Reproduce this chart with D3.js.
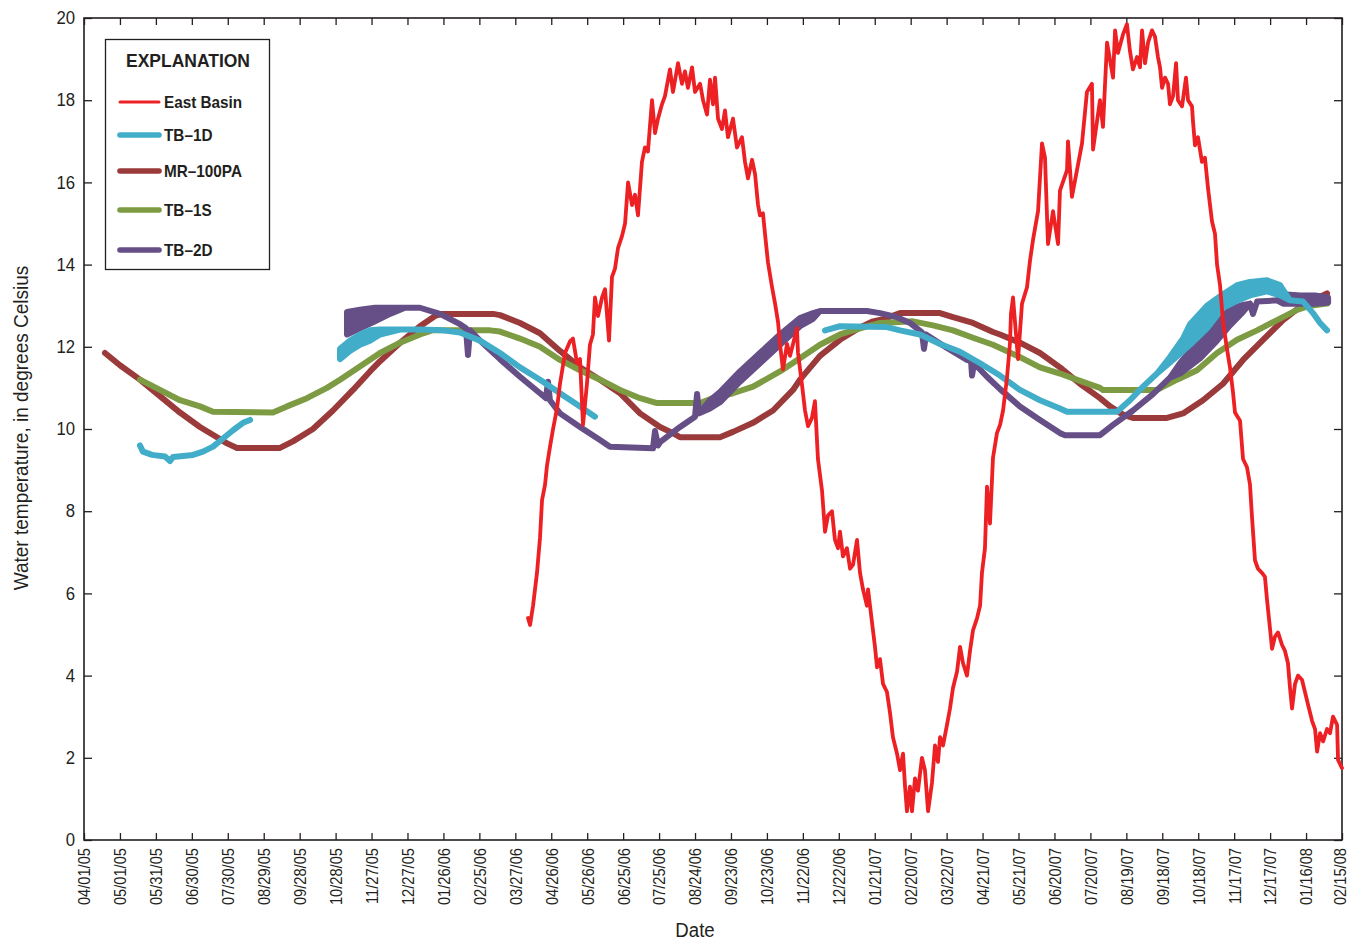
<!DOCTYPE html>
<html>
<head>
<meta charset="utf-8">
<script src="https://cdn.jsdelivr.net/npm/d3@7"></script>
<style>
  html, body { margin: 0; padding: 0; background: #fff; }
  svg { display: block; }
  text { font-family: "Liberation Sans", Arial, sans-serif; fill: #231f20; }
</style>
</head>
<body>
<svg id="chart" width="1348" height="940"></svg>
<script>
// Days are counted from 04/01/05 (day 0); values are water temperature in degrees Celsius.

const xTickLabels = ["04/01/05","05/01/05","05/31/05","06/30/05","07/30/05","08/29/05","09/28/05","10/28/05",
  "11/27/05","12/27/05","01/26/06","02/25/06","03/27/06","04/26/06","05/26/06","06/25/06","07/25/06",
  "08/24/06","09/23/06","10/23/06","11/22/06","12/22/06","01/21/07","02/20/07","03/22/07","04/21/07",
  "05/21/07","06/20/07","07/20/07","08/19/07","09/18/07","10/18/07","11/17/07","12/17/07","01/16/08","02/15/08"];
const yTickValues = [0, 2, 4, 6, 8, 10, 12, 14, 16, 18, 20];

// East Basin surface water
const eastBasin = [
[370.6,5.4],[372.3,5.23],[374.8,5.7],[378.1,6.5],[380.6,7.35],[382.3,8.27],[384.8,8.64],[386.4,9.1],[388.9,9.56],[391.5,10.0],
[394.8,10.5],[397.3,11.1],[401.5,11.85],[405.6,12.13],[408.1,12.2],[411.5,11.6],[414.0,11.7],[416.5,10.1],[419.8,11.1],[422.3,12.05],
[424.8,12.3],[426.5,13.2],[429.0,12.75],[432.4,13.2],[434.9,13.4],[438.2,12.15],[440.7,13.7],[443.2,13.9],[445.7,14.4],[449.1,14.7],
[451.6,15.0],[454.1,16.0],[457.4,15.45],[459.9,15.7],[462.4,15.2],[465.7,16.5],[468.2,16.85],[470.7,16.75],[474.1,18.0],[476.6,17.2],
[479.1,17.55],[482.4,17.9],[484.9,18.1],[489.1,18.75],[491.6,18.2],[495.8,18.9],[499.1,18.4],[501.6,18.7],[504.1,18.3],[507.5,18.8],
[510.0,18.2],[514.2,18.4],[516.7,18.0],[520.0,17.65],[522.5,18.5],[525.0,17.9],[526.7,18.55],[529.2,17.55],[532.5,17.3],[535.0,17.75],
[537.5,17.1],[541.7,17.55],[545.0,16.85],[549.2,17.1],[551.7,16.5],[554.2,16.1],[557.6,16.55],[560.1,16.2],[562.6,15.45],[564.2,15.2],
[566.7,15.25],[568.4,14.75],[570.9,14.05],[574.3,13.45],[576.8,13.05],[579.3,12.6],[580.9,12.07],[583.4,11.45],[586.8,12.07],[589.3,11.78],
[591.8,12.07],[595.1,12.45],[595.9,11.87],[599.3,11.07],[601.8,10.45],[604.3,10.07],[607.6,10.27],[610.1,10.68],[612.6,9.27],[616.0,8.5],
[618.5,7.5],[621.0,7.9],[624.3,8.0],[626.8,7.3],[629.3,7.1],[631.0,7.5],[633.5,6.9],[636.8,7.1],[639.4,6.6],[641.9,6.7],
[645.2,7.3],[647.7,6.5],[650.2,6.1],[653.5,5.7],[654.4,6.1],[657.7,5.3],[660.2,4.7],[661.9,4.2],[664.4,4.4],[666.9,3.8],
[670.2,3.6],[672.7,3.1],[675.2,2.5],[678.6,2.1],[681.1,1.7],[683.6,2.1],[685.3,1.3],[686.9,0.7],[689.4,1.3],[691.1,0.7],
[693.6,1.5],[696.1,1.2],[699.4,2.0],[701.9,1.7],[704.5,0.7],[707.8,1.4],[710.3,2.3],[712.8,1.9],[714.5,2.5],[717.0,2.3],
[720.3,2.8],[722.8,3.2],[725.3,3.7],[728.7,4.1],[731.2,4.7],[733.7,4.3],[737.0,4.0],[739.5,4.6],[742.0,5.1],[745.4,5.4],
[747.9,5.7],[749.5,6.5],[752.0,7.1],[753.7,8.6],[756.2,7.7],[758.7,9.3],[762.0,9.9],[764.6,10.1],[767.1,10.45],[770.4,11.25],
[772.9,12.1],[773.7,12.8],[775.4,13.2],[779.6,11.7],[782.9,13.05],[787.1,13.45],[789.6,14.1],[792.1,14.6],[796.3,15.3],[799.6,16.95],
[802.1,16.6],[804.6,14.5],[808.8,15.3],[813.0,14.5],[814.6,15.8],[820.5,16.3],[821.3,17.0],[824.6,15.65],[828.8,16.3],[833.0,16.95],
[837.1,18.2],[841.3,18.4],[842.2,16.8],[848.0,18.0],[850.5,17.35],[853.9,19.4],[858.9,18.55],[860.6,19.7],[863.0,19.15],[867.2,19.6],
[870.5,19.85],[873.0,19.2],[875.5,18.75],[878.9,19.05],[881.4,18.8],[883.1,19.7],[885.6,18.9],[888.1,19.4],[891.4,19.7],[893.9,19.55],
[896.4,19.05],[898.1,18.8],[899.8,18.3],[902.3,18.55],[904.8,18.4],[906.4,17.9],[909.0,18.1],[911.5,18.9],[913.1,18.0],[916.5,17.85],
[919.8,18.55],[921.5,18.0],[924.8,17.85],[925.6,17.5],[927.3,16.9],[929.8,17.1],[933.1,16.5],[935.6,16.6],[938.2,15.85],[941.5,15.05],
[944.0,14.75],[945.7,14.0],[948.2,13.5],[950.7,12.6],[954.0,11.95],[956.5,11.5],[959.0,10.9],[960.7,10.4],[964.9,10.2],[967.4,9.27],
[970.7,9.07],[973.2,8.65],[974.9,7.85],[977.4,6.8],[979.9,6.6],[983.2,6.5],[985.7,6.4],[987.4,5.85],[989.9,5.15],[991.6,4.65],
[994.1,4.95],[996.6,5.05],[999.9,4.75],[1002.4,4.6],[1004.9,4.3],[1006.6,3.7],[1008.3,3.2],[1010.8,3.8],[1013.3,4.0],[1016.6,3.9],
[1019.1,3.6],[1021.6,3.3],[1025.0,2.9],[1027.5,2.7],[1029.2,2.15],[1031.7,2.6],[1034.2,2.4],[1037.5,2.7],[1040.0,2.6],[1042.5,3.0],
[1045.9,2.8],[1046.7,1.95],[1050.0,1.75]
];

// Wells: [day, value] or [day, daily low, daily high]
const tb1dSeg1 = [
[46.7,9.6],[49.2,9.45],[56.8,9.37],[67.6,9.33],[71.8,9.22],[74.3,9.32],[91.0,9.37],[99.3,9.45],[107.7,9.57],[116.0,9.77],
[124.4,9.97],[132.7,10.15],[138.6,10.22]
];
const tb1dSeg2 = [
[213.7,11.7,11.95],[222.0,11.9,12.15],[230.4,12.05,12.3],[238.7,12.15,12.4],[247.1,12.3,12.42],[263.8,12.42],[280.4,12.42],[299.6,12.4],
[313.8,12.35],[330.5,12.15],[347.2,11.85],[363.9,11.5],[380.6,11.2],[397.3,10.87],[414.0,10.55],[426.5,10.3]
];
const tb1dSeg3 = [
[618.5,12.4],[631.0,12.5],[670.2,12.48],[681.1,12.4],[697.8,12.3],[714.5,12.07],[731.2,11.88],[747.9,11.6],[764.6,11.3],[781.2,10.95],
[797.9,10.7],[814.6,10.5],[820.5,10.42],[862.2,10.42],[873.0,10.7],[883.9,11.03],[895.6,11.35],[906.4,11.62,11.75],[917.3,11.9,12.2],
[923.1,12.05,12.55],[937.3,12.45,13.0],[950.7,12.95,13.28],[962.4,13.12,13.5],[973.2,13.25,13.58],[987.4,13.35,13.62],[998.3,13.25,13.5],
[1006.6,13.13],[1017.5,13.1],[1025.8,12.82],[1031.7,12.58],[1037.5,12.4]
];
const mr100pa = [
[17.5,11.85],[30.0,11.55],[46.7,11.2],[63.4,10.8],[80.1,10.4],[96.8,10.05],[111.0,9.8],[119.4,9.65],[127.7,9.54],[163.6,9.54],
[174.4,9.7],[191.1,10.0],[207.8,10.45],[224.5,10.95],[238.7,11.4],[247.1,11.65],[263.8,12.1],[280.4,12.5],[293.0,12.75],[298.8,12.8],
[341.4,12.8],[347.2,12.77],[363.9,12.58],[380.6,12.33],[397.3,11.9],[414.0,11.5],[430.7,11.2],[447.4,10.87],[464.1,10.38],[480.8,10.05],
[491.6,9.9],[497.5,9.8],[530.8,9.8],[541.7,9.93],[558.4,10.15],[575.1,10.45],[591.8,10.95],[597.6,11.2],[614.3,11.78],[631.0,12.17],
[647.7,12.47],[658.6,12.62],[666.9,12.67],[681.1,12.82],[714.5,12.82],[725.3,12.72],[742.0,12.58],[758.7,12.36],[764.6,12.3],[781.2,12.1],
[797.9,11.85],[814.6,11.5],[831.3,11.1],[848.0,10.75],[856.4,10.55],[867.2,10.35],[875.5,10.27],[903.9,10.27],[917.3,10.38],[934.0,10.7],
[950.7,11.1],[967.4,11.68],[984.1,12.17],[1000.8,12.65],[1015.0,12.97],[1029.2,13.18],[1037.5,13.3]
];
const tb1s = [
[46.7,11.2],[63.4,10.95],[80.1,10.7],[96.8,10.55],[107.7,10.42],[157.7,10.4],[169.4,10.55],[186.1,10.75],[202.8,11.0],[213.7,11.2],
[247.1,11.85],[263.8,12.1],[280.4,12.3],[290.5,12.4],[338.9,12.4],[347.2,12.37],[363.9,12.2],[380.6,12.0],[397.3,11.68],[414.0,11.43],
[430.7,11.2],[447.4,10.95],[464.1,10.75],[478.3,10.63],[514.2,10.63],[525.0,10.75],[541.7,10.87],[558.4,11.03],[580.9,11.4],[597.6,11.72],
[614.3,12.05],[631.0,12.3],[647.7,12.45],[664.4,12.58],[691.9,12.62],[708.6,12.52],[725.3,12.4],[742.0,12.22],[758.7,12.05],[781.2,11.75],
[797.9,11.5],[814.6,11.35],[831.3,11.17],[848.0,11.0],[850.5,10.95],[895.6,10.95],[912.3,11.2],[929.0,11.43],[945.7,11.85],[962.4,12.17],
[979.1,12.4],[995.8,12.65],[1012.5,12.9],[1023.3,13.0],[1037.5,13.05]
];
const tb2d = [
[219.5,12.3,12.85],[230.4,12.45,12.9],[242.9,12.62,12.95],[255.4,12.8,12.95],[267.9,12.95],[280.4,12.95],[297.1,12.8],[313.8,12.55],
[318.8,12.45],[320.5,11.8],[322.2,12.4],[330.5,12.15],[347.2,11.7],[363.9,11.27],[380.6,10.87],[385.6,10.75],[387.3,11.15],[388.9,10.7],
[397.3,10.38],[414.0,10.05],[430.7,9.73],[439.0,9.57],[474.9,9.53],[476.6,9.95],[479.1,9.6],[480.8,9.68],[497.5,10.05],[510.0,10.3],
[511.7,10.85],[513.4,10.38],[522.5,10.5,10.7],[530.8,10.65,10.9],[547.5,11.15,11.4],[564.2,11.6,11.85],[580.9,12.05,12.3],[597.6,12.5,12.7],
[608.5,12.68,12.82],[614.3,12.87],[653.5,12.87],[664.4,12.82],[678.6,12.72],[689.4,12.58],[699.4,12.35],[701.1,11.95],[702.8,12.3],
[720.3,11.97],[737.0,11.68],[740.4,11.65],[741.2,11.3],[742.9,11.6],[753.7,11.27],[764.6,10.97],[781.2,10.55],[797.9,10.22],[814.6,9.9],
[818.8,9.85],[848.0,9.85],[858.9,10.1],[875.5,10.45],[892.2,10.85],[906.4,11.25],[914.8,11.35,11.6],[931.5,11.72,12.2],[945.7,12.15,12.6],
[956.5,12.52,12.92],[967.4,12.85,13.02],[973.2,13.05],[975.7,12.8],[979.1,13.1],[995.8,13.13],[1000.8,13.05,13.28],[1015.0,13.05,13.25],
[1027.5,13.05,13.25],[1038.4,13.08,13.2]
];

const seriesInfo = [
  { name: "East Basin", color: "#ed2024" },
  { name: "TB\u20131D",     color: "#42adc9" },
  { name: "MR\u2013100PA",  color: "#9b3a3a" },
  { name: "TB\u20131S",     color: "#7d9b42" },
  { name: "TB\u20132D",     color: "#654f86" }
];

const plot = { left: 84, right: 1342, top: 18, bottom: 840 };
const DAY0 = Date.UTC(2005, 3, 1);
const toDate = d => new Date(DAY0 + d * 864e5);
const parseTick = d3.utcParse("%m/%d/%y");
const tickDates = xTickLabels.map(parseTick);

const x = d3.scaleUtc().domain([tickDates[0], tickDates[tickDates.length - 1]]).range([plot.left, plot.right]);
const y = d3.scaleLinear().domain([0, 20]).range([plot.bottom, plot.top]);

const svg = d3.select("#chart");
const ink = "#231f20";

// narrow the type horizontally so it reads as a condensed face
function condense(sel, f) {
  sel.each(function () {
    const L = this.getComputedTextLength();
    d3.select(this).attr("textLength", (L * f).toFixed(1)).attr("lengthAdjust", "spacingAndGlyphs");
  });
}

// axes with inward ticks on all four sides
const gBottom = svg.append("g").attr("transform", `translate(0,${plot.bottom})`)
  .call(d3.axisBottom(x).tickValues(tickDates).tickSizeInner(-7).tickSizeOuter(0)
    .tickFormat((d, i) => xTickLabels[i]));
gBottom.selectAll("text")
  .attr("transform", "rotate(-90)")
  .attr("x", -8).attr("y", 0)
  .attr("dy", (d, i) => i === xTickLabels.length - 1 ? "0.22em" : "0.36em")
  .style("text-anchor", "end");

svg.append("g").attr("transform", `translate(0,${plot.top})`)
  .call(d3.axisTop(x).tickValues(tickDates).tickSizeInner(-7).tickSizeOuter(0).tickFormat(""));

const gLeft = svg.append("g").attr("transform", `translate(${plot.left},0)`)
  .call(d3.axisLeft(y).tickValues(yTickValues).tickSizeInner(-8).tickSizeOuter(0).tickPadding(9));

svg.append("g").attr("transform", `translate(${plot.right},0)`)
  .call(d3.axisRight(y).tickValues(yTickValues).tickSizeInner(-8).tickSizeOuter(0).tickFormat(""));

svg.selectAll(".domain").remove();
svg.selectAll(".tick line").attr("stroke", ink).attr("stroke-width", 1.3);
svg.selectAll(".tick text").attr("fill", ink).attr("font-family", null).attr("font-size", null);
gBottom.selectAll("text").style("font-size", "16.3px");
gLeft.selectAll("text").style("font-size", "18px");
condense(gBottom.selectAll("text"), 0.9);
condense(gLeft.selectAll("text"), 0.93);

svg.append("rect")
  .attr("x", plot.left).attr("y", plot.top)
  .attr("width", plot.right - plot.left).attr("height", plot.bottom - plot.top)
  .attr("fill", "none").attr("stroke", ink).attr("stroke-width", 1.6);

// axis titles
const xTitle = svg.append("text").attr("x", 695).attr("y", 937).attr("text-anchor", "middle")
  .style("font-size", "20px").text("Date");
const yTitle = svg.append("text").attr("transform", "translate(28,428) rotate(-90)").attr("text-anchor", "middle")
  .style("font-size", "20px").text("Water temperature, in degrees Celsius");
condense(xTitle, 0.93);
condense(yTitle, 0.95);

// well records drawn as a band between daily low and high (a single value collapses the band to a line)
const band = d3.area()
  .x(d => x(toDate(d[0])))
  .y0(d => y(d[1]))
  .y1(d => y(d.length > 2 ? d[2] : d[1]));

const plotG = svg.append("g");
function drawWell(data, color) {
  plotG.append("path").datum(data).attr("d", band)
    .attr("fill", color).attr("stroke", color)
    .attr("stroke-width", 6).attr("stroke-linejoin", "round").attr("stroke-linecap", "round");
}
drawWell(mr100pa, seriesInfo[2].color);
drawWell(tb1s, seriesInfo[3].color);
drawWell(tb2d, seriesInfo[4].color);
drawWell(tb1dSeg1, seriesInfo[1].color);
drawWell(tb1dSeg2, seriesInfo[1].color);
drawWell(tb1dSeg3, seriesInfo[1].color);

const line = d3.line().x(d => x(toDate(d[0]))).y(d => y(d[1]));
plotG.append("path").datum(eastBasin).attr("d", line)
  .attr("fill", "none").attr("stroke", seriesInfo[0].color)
  .attr("stroke-width", 3.8).attr("stroke-linejoin", "round").attr("stroke-linecap", "round");

// legend
const lg = svg.append("g");
lg.append("rect").attr("x", 105.5).attr("y", 39.5).attr("width", 164).attr("height", 230)
  .attr("fill", "#fff").attr("stroke", ink).attr("stroke-width", 1.3);
const lgTitle = lg.append("text").attr("x", 188).attr("y", 67).attr("text-anchor", "middle")
  .style("font-size", "19px").style("font-weight", "bold").text("EXPLANATION");
condense(lgTitle, 0.92);
const rowY = [102, 135, 171, 210, 250];
seriesInfo.forEach((s, i) => {
  lg.append("line").attr("x1", 120).attr("x2", 159).attr("y1", rowY[i]).attr("y2", rowY[i])
    .attr("stroke", s.color).attr("stroke-width", i === 0 ? 3 : 5.6).attr("stroke-linecap", "round");
  const t = lg.append("text").attr("x", 164).attr("y", rowY[i]).attr("dy", "0.36em")
    .style("font-size", "17px").style("font-weight", "bold").text(s.name);
  condense(t, 0.9);
});
</script>
</body>
</html>
